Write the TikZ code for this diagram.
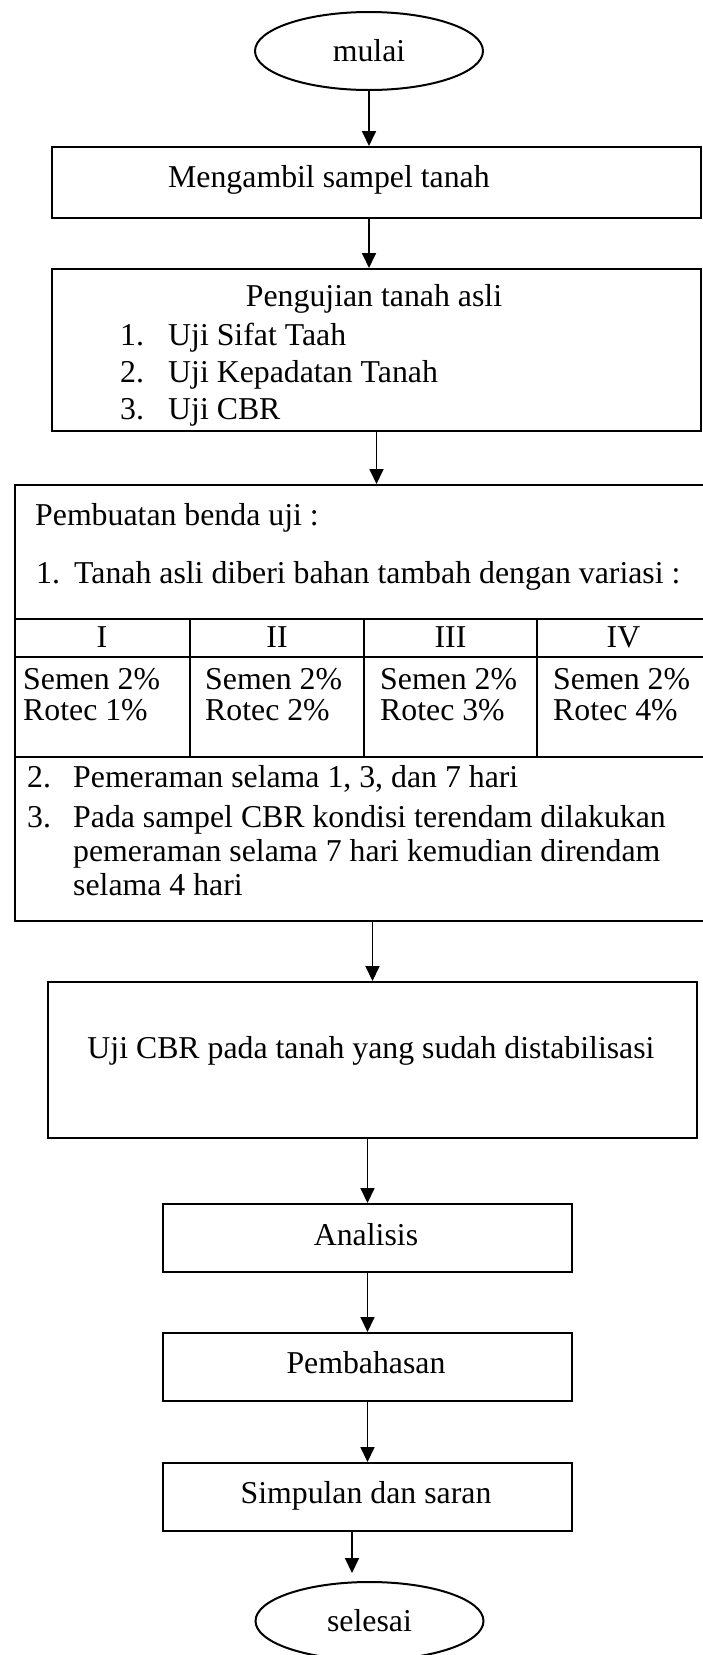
\documentclass[tikz,border=0pt]{standalone}
\usepackage{fontspec}
\setmainfont{Liberation Serif}
\usetikzlibrary{shapes.geometric,arrows.meta}

\tikzset{
  procbox/.style={draw, rectangle, anchor=north west, line width=2pt, inner sep=0pt},
  terminal/.style={draw, ellipse, line width=2pt, minimum width=228pt, minimum height=78pt, inner sep=0pt},
  txt/.style={anchor=base west, inner sep=0pt},
  ctxt/.style={anchor=base, inner sep=0pt},
  flow/.style={line width=1.8pt, -{Triangle[length=15pt,width=14pt]}}
}

\begin{document}
\begin{tikzpicture}[x=1pt, y=-1pt, font=\fontsize{31.8}{36}\selectfont]
  \useasboundingbox (0,0) rectangle (702,1655);
  % start and end
  \node[terminal] (mulai) at (369,51) {mulai};
  \node[terminal] (selesai) at (369.5,1621) {selesai};
  % boxes
  \node[procbox, minimum width=649pt, minimum height=71pt] (ambil) at (51,146) {};
  \node[procbox, minimum width=649pt, minimum height=162pt] (uji) at (51,268) {};
  \node[procbox, minimum width=696pt, minimum height=436pt] (benda) at (14,484) {};
  \node[procbox, minimum width=649pt, minimum height=156pt] (cbr) at (47,981) {};
  \node[procbox, minimum width=409pt, minimum height=68pt] (analisis) at (162,1203) {};
  \node[procbox, minimum width=409pt, minimum height=68pt] (bahas) at (162,1332) {};
  \node[procbox, minimum width=409pt, minimum height=68pt] (simpul) at (162,1462) {};
  % part for the first two boxes
  \node[txt] (ambiltxt) at (168,187) {Mengambil sampel tanah};
  \node[ctxt] (ujitxt) at (374,306) {Pengujian tanah asli};
  \foreach \i/\yb/\t in {1/345/Uji Sifat Taah, 2/382/Uji Kepadatan Tanah, 3/419/Uji CBR} {
    \node[txt] (ujino\i) at (120,\yb) {\i.};
    \node[txt] (ujiitem\i) at (168,\yb) {\t};
  }
  % part for the test specimens
  \node[txt] (pembuatan) at (35,525) {Pembuatan benda uji :};
  \node[txt] (bendano1) at (36,583) {1.};
  \node[txt] (variasi) at (74,583) {Tanah asli diberi bahan tambah dengan variasi :};
  \draw[line width=1.6pt]
    (14,619) -- (710,619)
    (14,657) -- (710,657)
    (14,757) -- (710,757);
  \foreach \x in {190,364,537}
    \draw[line width=1.6pt] (\x,619) -- (\x,757);
  \foreach \nm/\x [count=\i] in {I/102,II/277,III/450.5,IV/623.5}
    \node[ctxt] (var\i) at (\x,647) {\nm};
  \foreach \x [count=\i] in {23,205,380,553} {
    \node[txt] (semen\i) at (\x,689) {Semen 2\%};
    \node[txt] (rotec\i) at (\x,720) {Rotec \i\%};
  }
  \node[txt] (bendano2) at (27,787) {2.};
  \node[txt] (peram) at (73,787) {Pemeraman selama 1, 3, dan 7 hari};
  \node[txt] (bendano3) at (27,827) {3.};
  \node[txt] (rendam1) at (73,827) {Pada sampel CBR kondisi terendam dilakukan};
  \node[txt] (rendam2) at (73,861) {pemeraman selama 7 hari kemudian direndam};
  \node[txt] (rendam3) at (73,895) {selama 4 hari};
  % part for the last boxes
  \node[ctxt] (cbrtxt) at (371,1058) {Uji CBR pada tanah yang sudah distabilisasi};
  \node[ctxt] (analisistxt) at (366,1245) {Analisis};
  \node[ctxt] (bahastxt) at (366,1373) {Pembahasan};
  \node[ctxt] (simpultxt) at (366,1503) {Simpulan dan saran};
  % arrows
  \coordinate (ujung) at (352,1573);
  \draw[flow] (mulai.south) -- (mulai.south |- ambil.north);
  \draw[flow] (ambil.south -| mulai.south) -- (mulai.south |- uji.north);
  \draw[flow] (uji.south) -- (uji.south |- benda.north);
  \draw[flow] (cbr.north |- benda.south) -- (cbr.north);
  \draw[flow] (analisis.north |- cbr.south) -- (analisis.north);
  \draw[flow] (analisis.south) -- (bahas.north);
  \draw[flow] (bahas.south) -- (simpul.north);
  \draw[flow] (ujung |- simpul.south) -- (ujung);
\end{tikzpicture}
\end{document}
